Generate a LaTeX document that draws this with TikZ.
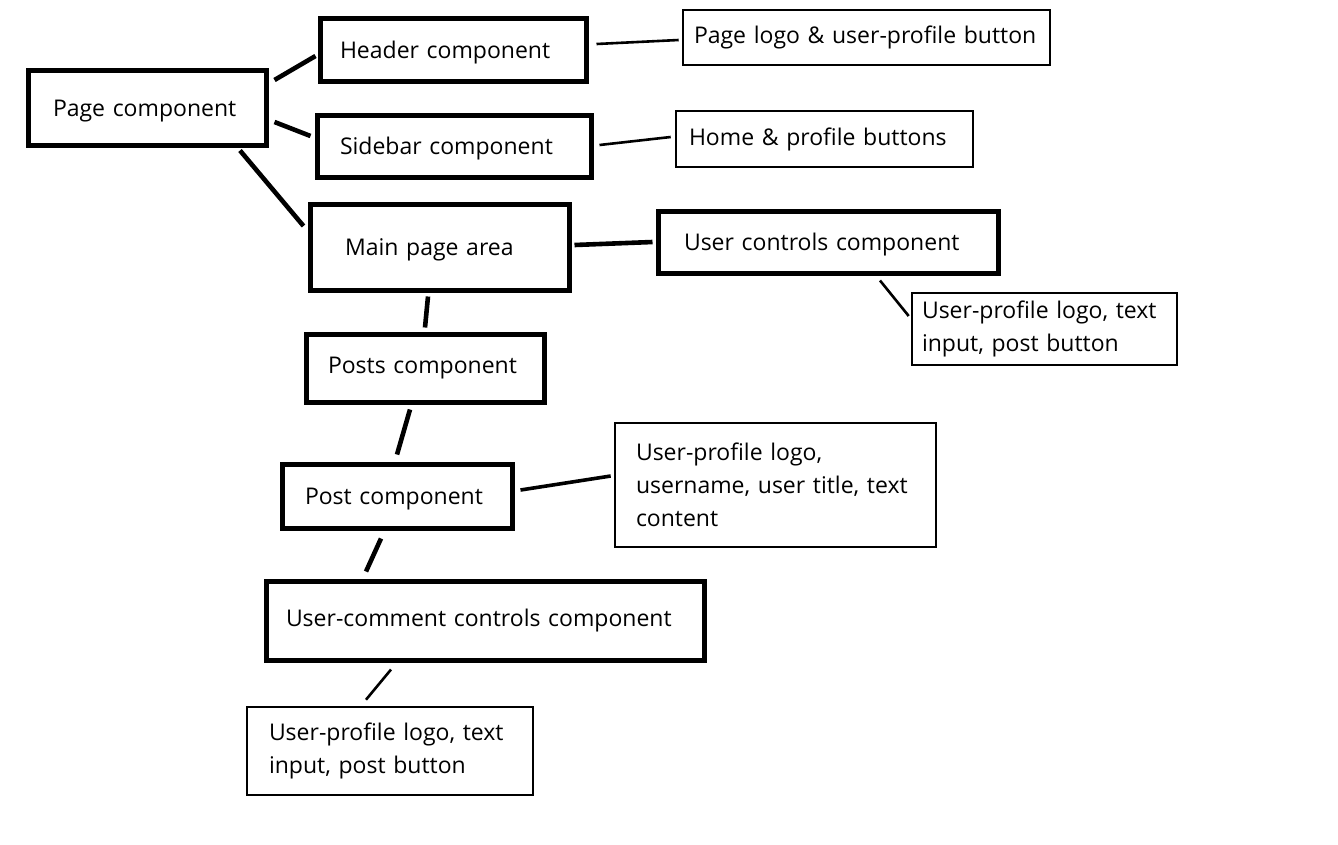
\documentclass[tikz,border=0pt]{standalone}
\usepackage{fontspec}
\setmainfont{Open Sans}
\begin{document}
\begin{tikzpicture}[x=1pt,y=-1pt,
  box/.style={draw=black, rectangle, align=left, inner ysep=0pt,
    font=\fontsize{23}{33}\selectfont},
  heavybox/.style={box, line width=5pt},
  lightbox/.style={box, line width=2.6pt},
  sink/.style={text height=23pt, text depth=5.5pt},
  heavylink/.style={line width=4.6pt},
  lightlink/.style={line width=2.6pt}]
\useasboundingbox (0,0) rectangle (1338,844);

% component boxes: minimum size = outer size, text width = size minus padding
\node[heavybox, sink, minimum width=238, minimum height=75, inner xsep=25, text width=188] (page) at (147,107.5) {Page component};
\node[heavybox, sink, minimum width=266, minimum height=63, inner xsep=20, text width=226] (header) at (453,49.5) {Header component};
\node[lightbox, minimum width=367, minimum height=55, inner xsep=11, text width=345] (plogo) at (866.5,37.5) {Page logo \& user-profile button};
\node[heavybox, sink, minimum width=274, minimum height=62, inner xsep=23, text width=228] (sidebar) at (454,146) {Sidebar component};
\node[lightbox, minimum width=297, minimum height=56, inner xsep=13, text width=271] (home) at (824.5,139) {Home \& profile buttons};
\node[heavybox, sink, minimum width=259, minimum height=86, inner xsep=35, text width=189] (main) at (439.5,247) {Main page area};
\node[heavybox, sink, minimum width=340, minimum height=62, inner xsep=26, text width=288] (uctrl) at (828,242) {User controls component};
\node[lightbox, minimum width=265, minimum height=72, inner xsep=10, text width=245] (ucbox) at (1044.5,329) {User-profile logo, text\\input, post button};
\node[heavybox, minimum width=238, minimum height=68, inner xsep=22, text width=194] (posts) at (425,368) {Posts component};
\node[heavybox, sink, minimum width=230, minimum height=64, inner xsep=23, text width=184] (post) at (397,496) {Post component};
\node[lightbox, minimum width=321, minimum height=124, inner xsep=21, text width=279] (postbox) at (775.5,485) {User-profile logo,\\username, user title, text\\content};
\node[heavybox, minimum width=438, minimum height=79, inner xsep=20, text width=398] (ucc) at (485,620.5) {User-comment controls component};
\node[lightbox, minimum width=286, minimum height=88, inner xsep=22, text width=242] (uccbox) at (390,751) {User-profile logo, text\\input, post button};

% connectors between the boxes
\draw[heavylink] ([shift={(6,-27.5)}]page.east) -- ([shift={(-2,6.5)}]header.west);
\draw[heavylink] ([shift={(6,14.5)}]page.east) -- ([shift={(-4,-10)}]sidebar.west);
\draw[heavylink] ([shift={(93,3)}]page.south) -- ([shift={(-4,-21)}]main.west);
\draw[lightlink] ([shift={(8,-5.5)}]header.east) -- ([shift={(-3,2.5)}]plogo.west);
\draw[lightlink] ([shift={(6,-1)}]sidebar.east) -- ([shift={(-4,-2)}]home.west);
\draw[heavylink] ([shift={(3,-2)}]main.east) -- ([shift={(-3,0)}]uctrl.west);
\draw[lightlink] ([shift={(52,5)}]uctrl.south) -- ([shift={(-2,-13)}]ucbox.west);
\draw[heavylink] ([shift={(-11.5,4)}]main.south) -- ([shift={(0,-4)}]posts.north);
\draw[heavylink] ([shift={(-15,5)}]posts.south) -- ([shift={(0,-7)}]post.north);
\draw[line width=3.6pt] ([shift={(6,-6)}]post.east) -- ([shift={(-3,-9)}]postbox.west);
\draw[heavylink] ([shift={(-16,8)}]post.south) -- ([shift={(-119,-7)}]ucc.north);
\draw[lightlink] ([shift={(-94,7)}]ucc.south) -- ([shift={(-24,-6)}]uccbox.north);
\end{tikzpicture}
\end{document}
